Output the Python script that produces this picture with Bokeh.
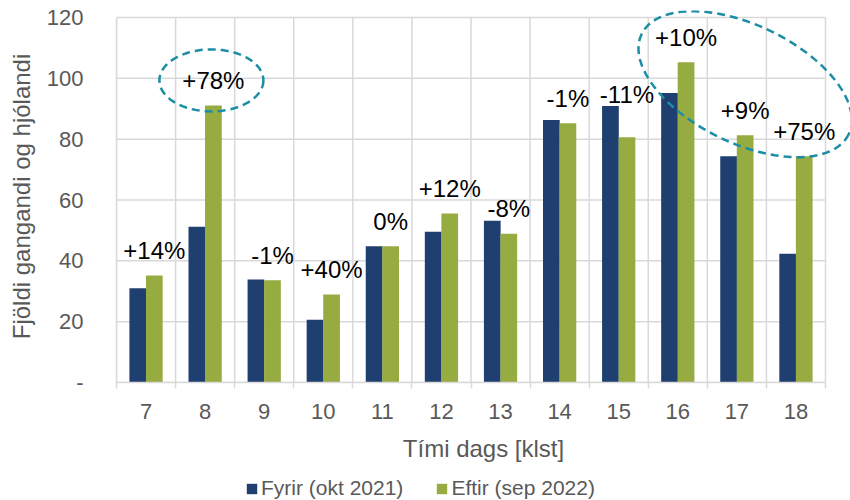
import numpy as np
from bokeh.plotting import figure
from bokeh.layouts import column
from bokeh.models import (Range1d, FixedTicker, PolyAnnotation, Legend, LegendItem,
                          ColumnDataSource)
from bokeh.core.properties import value
from bokeh.embed import file_html
from bokeh.resources import INLINE

# ---- data ----
hours = [7, 8, 9, 10, 11, 12, 13, 14, 15, 16, 17, 18]
fyrir = [31.0, 51.2, 33.9, 20.6, 44.8, 49.6, 53.2, 86.3, 90.9, 95.2, 74.4, 42.3]
eftir = [35.2, 91.1, 33.6, 28.9, 44.8, 55.6, 48.9, 85.2, 80.6, 105.3, 81.3, 74.4]
change_labels = ["+14%", "+78%", "-1%", "+40%", "0%", "+12%", "-8%", "-1%", "-11%",
                 "+10%", "+9%", "+75%"]
y_ticks = [0, 20, 40, 60, 80, 100, 120]
series_names = ["Fyrir (okt 2021)", "Eftir (sep 2022)"]
x_title = "Tími dags [klst]"
y_title = "Fjöldi gangandi og hjólandi"

# ---- style / layout ----
BLUE = "#1F3F70"
GREEN = "#96AB40"
TEAL = "#1B8EA5"
GRID = "#D9D9D9"
TXT = "#595959"
FONT = "Liberation Sans"
W, H = 850, 476
LEG_H = 24
BL, BR, BT, BB = 116, 0, 10, 94
YMAX = y_ticks[-1]
px_x = 709 / len(hours)      # pixels per category
px_y = 365 / YMAX            # pixels per unit
x0 = hours[0] - 0.5
x1 = hours[-1] + 0.5
x_end = x0 + (W - BL - BR) / px_x
y_end = (H - BT - BB) / px_y
BAR_W = 0.283
OFF = 0.14

p = figure(width=W, height=H,
           min_border_left=BL, min_border_right=BR, min_border_top=BT, min_border_bottom=BB,
           x_range=Range1d(x0, x_end), y_range=Range1d(0, y_end),
           output_backend="svg", toolbar_location=None, tools="")
p.outline_line_color = None
p.background_fill_color = "white"
p.xgrid.visible = False
p.ygrid.visible = False

x = np.array(hours, dtype=float)
bounds = [h - 0.5 for h in hours] + [x1]

# grid lines inside the plot area only
p.segment(x0=bounds, y0=[0] * len(bounds), x1=bounds, y1=[YMAX] * len(bounds),
          line_color=GRID, line_width=1.5)
p.segment(x0=[x0] * len(y_ticks), y0=y_ticks, x1=[x1] * len(y_ticks), y1=y_ticks,
          line_color=GRID, line_width=1.5)

src = ColumnDataSource(dict(xb=x - OFF, xg=x + OFF, fyrir=fyrir, eftir=eftir))
r1 = p.vbar(x="xb", top="fyrir", width=BAR_W, source=src, fill_color=BLUE, line_color=None)
r2 = p.vbar(x="xg", top="eftir", width=BAR_W, source=src, fill_color=GREEN, line_color=None)

# percent labels, above the bars
fy = np.array(fyrir)
ef = np.array(eftir)
label_y = np.maximum(ef + 25 / px_y, fy + 12 / px_y)
lsrc = ColumnDataSource(dict(x=x + OFF, y=label_y, t=change_labels))
p.text(x="x", y="y", text="t", source=lsrc, text_align="center", text_baseline="middle",
       text_font=value(FONT), text_font_size="24px", text_color="black")

# axes
p.xaxis.bounds = (x0, x1)
p.xaxis.ticker = FixedTicker(ticks=hours, minor_ticks=bounds)
p.xaxis.major_tick_out = 0
p.xaxis.major_tick_in = 0
p.xaxis.minor_tick_out = 6
p.xaxis.minor_tick_in = 0
p.xaxis.minor_tick_line_color = GRID
p.xaxis.minor_tick_line_width = 1.5
p.xaxis.axis_line_color = GRID
p.xaxis.axis_line_width = 1.5
p.xaxis.major_label_standoff = 15
p.xaxis.axis_label = x_title
p.xaxis.axis_label_standoff = 13

p.yaxis.bounds = (0, YMAX)
p.yaxis.ticker = FixedTicker(ticks=y_ticks)
p.yaxis.major_label_overrides = {0: "-"}
p.yaxis.major_tick_out = 0
p.yaxis.major_tick_in = 0
p.yaxis.minor_tick_line_color = None
p.yaxis.axis_line_color = GRID
p.yaxis.axis_line_width = 1.5
p.yaxis.major_label_standoff = 33
p.yaxis.axis_label = y_title
p.yaxis.axis_label_standoff = 9

for ax in (p.xaxis, p.yaxis):
    ax.major_label_text_font = FONT
    ax.major_label_text_font_size = "22px"
    ax.major_label_text_color = TXT
    ax.axis_label_text_font = FONT
    ax.axis_label_text_font_size = "24px"
    ax.axis_label_text_font_style = "normal"
    ax.axis_label_text_color = TXT

# dashed ellipses around highlighted labels
def ellipse_ann(cx, cy, a_px, b_px, ang_deg):
    t = np.linspace(0, 2 * np.pi, 121)
    th = np.deg2rad(ang_deg)
    dx = a_px * np.cos(t) * np.cos(th) - b_px * np.sin(t) * np.sin(th)
    dy = a_px * np.cos(t) * np.sin(th) + b_px * np.sin(t) * np.cos(th)
    return PolyAnnotation(xs=list(cx + dx / px_x), ys=list(cy - dy / px_y),
                          fill_alpha=0, line_color=TEAL, line_alpha=1.0,
                          line_width=2.5, line_dash="8 5")

i8 = hours.index(8)
p.add_layout(ellipse_ann(x[i8] + OFF - 2 / px_x, label_y[i8], 52, 31, 0))
i16, i18 = hours.index(16), hours.index(18)
cx2 = (x[i16] + x[i18]) / 2 + OFF
cy2 = (label_y[i16] + label_y[i18]) / 2
p.add_layout(ellipse_ann(cx2, cy2, 115, 59, 25.8))

# legend strip below the chart (proxy glyphs of zero height, outside the view)
q = figure(width=W, height=LEG_H, min_border=0, x_axis_location=None, y_axis_location=None,
           x_range=Range1d(0, 1), y_range=Range1d(0, 1),
           output_backend="svg", toolbar_location=None, tools="")
q.outline_line_color = None
q.xgrid.visible = False
q.ygrid.visible = False
q1 = q.vbar(x=[-10], top=[0], width=0.1, fill_color=BLUE, line_color=None)
q2 = q.vbar(x=[-10], top=[0], width=0.1, fill_color=GREEN, line_color=None)
legend = Legend(items=[LegendItem(label=series_names[0], renderers=[q1]),
                       LegendItem(label=series_names[1], renderers=[q2])],
                orientation="horizontal", location=(245 - BL, 0),
                padding=0, margin=0, spacing=32, label_standoff=3,
                glyph_width=13, glyph_height=13,
                border_line_color=None, background_fill_alpha=0,
                label_text_font=FONT, label_text_font_size="21px", label_text_color=TXT)
q.add_layout(legend)

open("out.html", "w").write(file_html(column(p, q, spacing=0), INLINE))
